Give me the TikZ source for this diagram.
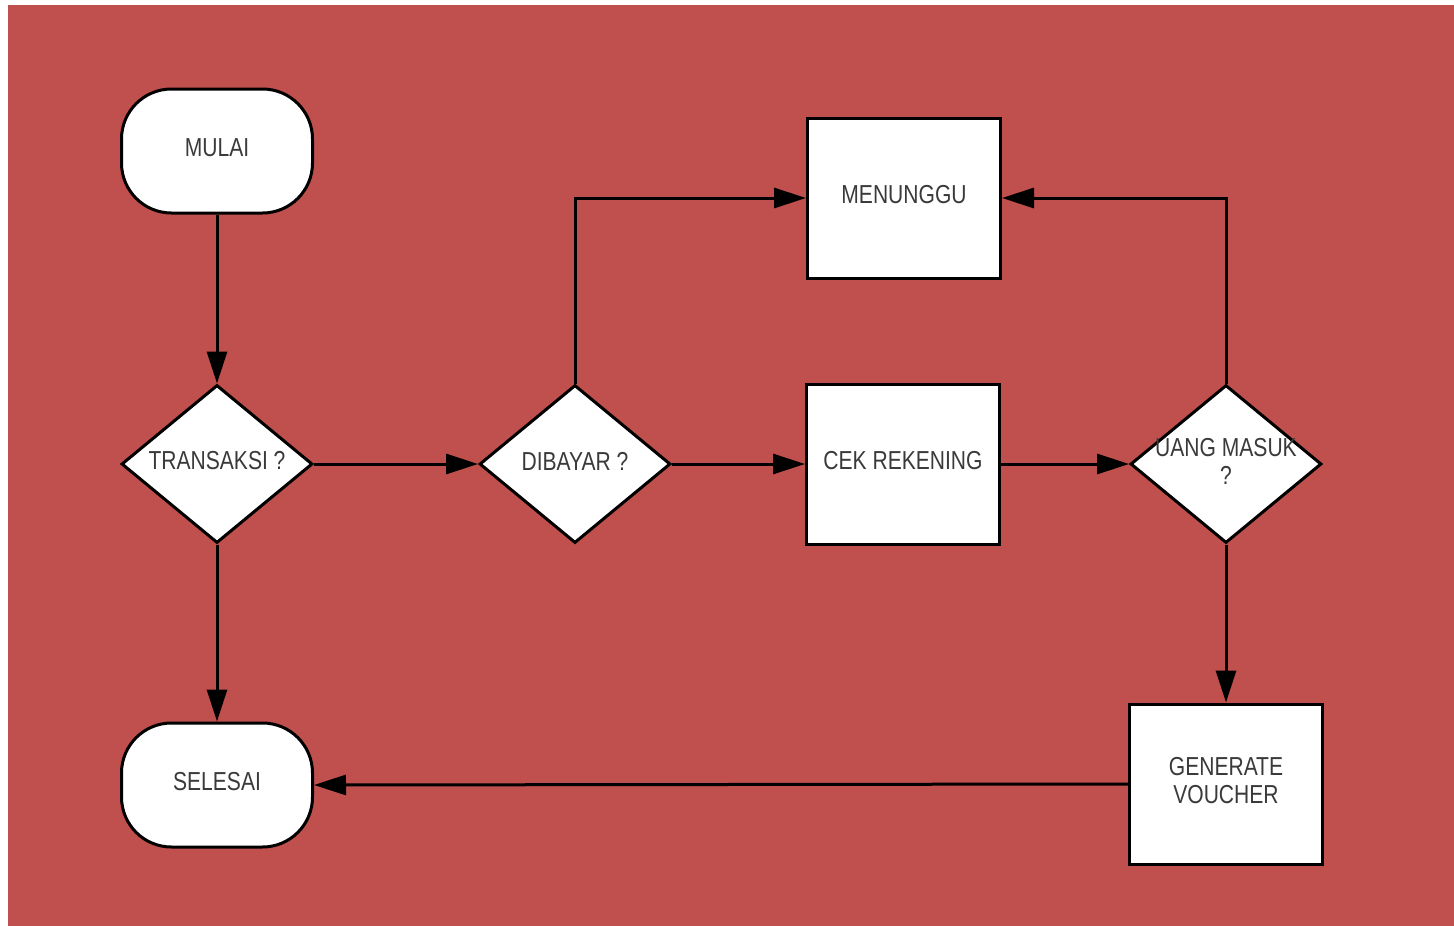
\documentclass[tikz,border=0pt]{standalone}
\usepackage{fontspec}
\setmainfont{Liberation Sans}
\usetikzlibrary{shapes.geometric,arrows.meta}
\definecolor{bgred}{HTML}{C0504D}
\definecolor{txtgray}{HTML}{3A3A3A}
\newcommand\ctxt[1]{\scalebox{0.81}[1]{#1}}
\begin{document}
\begin{tikzpicture}[x=1pt,y=-1pt,
  every node/.style={font=\fontsize{26}{28}\selectfont, text=txtgray},
  term/.style={draw=black, line width=3pt, fill=white, rounded corners=50pt, minimum width=191pt, minimum height=124pt, inner sep=0pt},
  proc/.style={draw=black, line width=3pt, fill=white, minimum width=193pt, minimum height=160pt, inner sep=0pt},
  dia/.style={draw=black, line width=3pt, fill=white, diamond, minimum width=191pt, minimum height=158pt, inner sep=0pt},
  lbl/.style={align=center, inner sep=0pt},
  conn/.style={line width=3pt, draw=black, -{Triangle[length=32pt,width=20pt]}}]
\useasboundingbox (0,0) rectangle (1454,926);
\fill[bgred] (8,5) rectangle (1454,926);
\node[term] (mulai) at (217,151) {};
\node[lbl] (mulait) at ([yshift=3pt]mulai.center) {\ctxt{MULAI}};
\node[term] (sel) at (217,785) {};
\node[lbl] (selt) at ([yshift=3pt]sel.center) {\ctxt{SELESAI}};
\node[dia] (trans) at (217,464) {};
\node[lbl] (transt) at ([yshift=3pt]trans.center) {\ctxt{TRANSAKSI ?}};
\node[dia] (dib) at (575,464) {};
\node[lbl] (dibt) at ([yshift=3pt]dib.center) {\ctxt{DIBAYAR ?}};
\node[proc] (cek) at (903,464) {};
\node[lbl] (cekt) at ([yshift=3pt]cek.center) {\ctxt{CEK REKENING}};
\node[proc] (men) at (904,198) {};
\node[lbl] (ment) at ([yshift=3pt]men.center) {\ctxt{MENUNGGU}};
\node[dia] (uang) at (1226,464) {};
\node[lbl] (uangt) at ([yshift=3pt]uang.center) {\ctxt{UANG MASUK}\\\ctxt{?}};
\node[proc] (gen) at (1226,784) {};
\node[lbl] (gent) at ([yshift=3pt]gen.center) {\ctxt{GENERATE}\\\ctxt{VOUCHER}};
\draw[conn] (mulai.south) -- (trans.north);
\draw[conn] (trans.east) -- (dib.west);
\draw[conn] (trans.south) -- (sel.north);
\draw[conn] (dib.north) |- (men.west);
\draw[conn] (dib.east) -- (cek.west);
\draw[conn] (cek.east) -- (uang.west);
\draw[conn] (uang.north) |- (men.east);
\draw[conn] (uang.south) -- (gen.north);
\draw[conn] (gen.west) -- (sel.east);
\end{tikzpicture}
\end{document}
